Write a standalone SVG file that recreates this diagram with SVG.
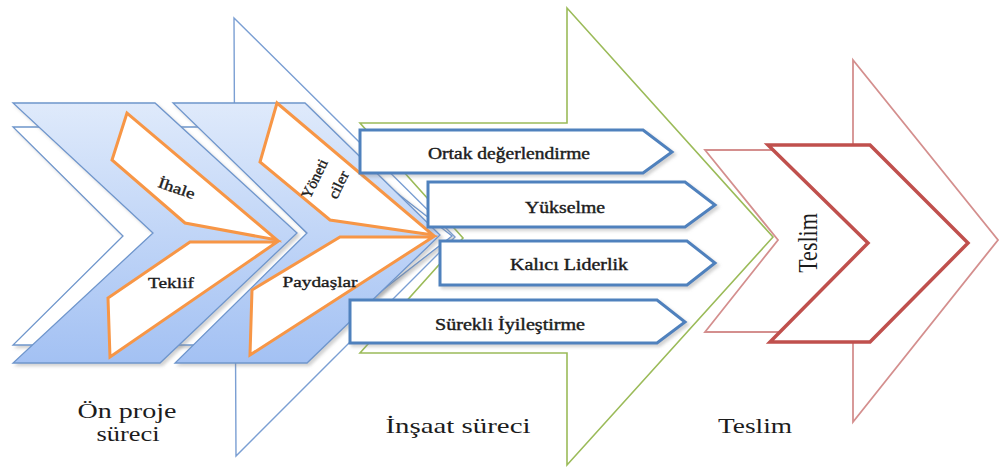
<svg xmlns="http://www.w3.org/2000/svg" width="1000" height="468" viewBox="0 0 1000 468">
  <defs>
    <linearGradient id="chevronFill" x1="0" y1="0" x2="0" y2="1">
      <stop offset="0" stop-color="#dfeafb"/>
      <stop offset="1" stop-color="#a3c1f3"/>
    </linearGradient>
    <filter id="softShadow" x="-10%" y="-10%" width="125%" height="125%">
      <feDropShadow dx="2.5" dy="2.5" stdDeviation="1.6" flood-color="#7f7f7f" flood-opacity="0.35"/>
    </filter>
  </defs>
  <style>
    .blue-frame{fill:#fff;stroke:#7b9fd3;stroke-width:1.4}
    .chev-back{fill:#fff;stroke:#6f96cc;stroke-width:1.3;filter:url(#softShadow)}
    .chev-front{fill:url(#chevronFill);stroke:#6f96cc;stroke-width:1.3;filter:url(#softShadow)}
    .petal{fill:#fff;stroke:#f79646;stroke-width:3}
    .green-frame{fill:#fff;stroke:#9bbb59;stroke-width:1.6}
    .step{fill:#fff;stroke:#4f81bd;stroke-width:3;filter:url(#softShadow)}
    .red-thin{fill:#fff;stroke:#d48f8e;stroke-width:1.8}
    .red-thick{fill:#fff;stroke:#c0504d;stroke-width:3.5}
    text{font-family:"Liberation Serif","Times New Roman",serif;fill:#1c1c1c}
    .small{font-size:15px;text-anchor:middle;stroke:#1c1c1c;stroke-width:0.35}
    .step-label{font-size:16px;text-anchor:middle;stroke:#1c1c1c;stroke-width:0.4}
    .stage-label{font-size:22px;text-anchor:middle}
  </style>
  <rect width="1000" height="468" fill="#fff"/>

  <!-- stage 1 frame: pre-project -->
  <g id="stage-pre-frame">
    <polygon class="blue-frame" points="234,18 455,237 236,456"/>
  </g>

  <!-- stage 2 frame: construction -->
  <g id="stage-build-frame">
    <polygon class="green-frame" points="360,123 567,123 567,8 773,237 567,465 567,353 360,353 463,238"/>
  </g>

  <!-- pre-project chevrons -->
  <g id="chevron-2-back">
    <polygon class="chev-back" points="199,127 312,127 452,236 312,345 199,345 311,236"/>
  </g>
  <g id="chevron-1-back">
    <polygon class="chev-back" points="13,127 199,127 310,236 199,345 13,345 123,236"/>
  </g>
  <g id="chevron-1">
    <polygon class="chev-front" points="13,103 155,103 297,233 160,363 13,363 153,233"/>
  </g>
  <g id="chevron-2">
    <polygon class="chev-front" points="173,103 305,103 440,235 307,363 175,363 307,233"/>
  </g>

  <g id="node-ihale">
    <polygon class="petal" points="127,113 112,160 185,223 277,240"/>
    <text class="small" transform="translate(175,193) rotate(19)" textLength="38" lengthAdjust="spacingAndGlyphs">İhale</text>
  </g>
  <g id="node-teklif">
    <polygon class="petal" points="190,242 277,242 110,357 108,298"/>
    <text class="small" x="171" y="288" textLength="46" lengthAdjust="spacingAndGlyphs">Teklif</text>
  </g>
  <g id="node-yoneticiler">
    <polygon class="petal" points="277,103 260,162 330,220 433,235"/>
    <text class="small" transform="translate(319,181) rotate(-64)" textLength="42" lengthAdjust="spacingAndGlyphs">Yöneti</text>
    <text class="small" transform="translate(343,187) rotate(-64)" textLength="29" lengthAdjust="spacingAndGlyphs">ciler</text>
  </g>
  <g id="node-paydaslar">
    <polygon class="petal" points="340,237 433,237 250,355 252,290"/>
    <text class="small" x="320" y="287" textLength="75" lengthAdjust="spacingAndGlyphs">Paydaşlar</text>
  </g>

  <!-- construction steps -->
  <g id="node-ortak">
    <polygon class="step" points="360,130 643,130 672,152 643,173 360,173"/>
    <text class="step-label" x="509" y="159" textLength="162" lengthAdjust="spacingAndGlyphs">Ortak değerlendirme</text>
  </g>
  <g id="node-yukselme">
    <polygon class="step" points="428,182 685,182 715,205 685,227 428,227"/>
    <text class="step-label" x="565" y="213" textLength="80" lengthAdjust="spacingAndGlyphs">Yükselme</text>
  </g>
  <g id="node-liderlik">
    <polygon class="step" points="440,241 687,241 715,263 687,285 440,285"/>
    <text class="step-label" x="569" y="270" textLength="118" lengthAdjust="spacingAndGlyphs">Kalıcı Liderlik</text>
  </g>
  <g id="node-iyilestirme">
    <polygon class="step" points="350,300 657,300 685,322 657,343 350,343"/>
    <text class="step-label" x="510" y="330" textLength="150" lengthAdjust="spacingAndGlyphs">Sürekli İyileştirme</text>
  </g>

  <!-- stage 3: delivery -->
  <g id="stage-delivery-frame">
    <polygon class="red-thin" points="853,60 998,240 853,422"/>
  </g>
  <g id="chevron-delivery-back">
    <polygon class="red-thin" points="705,150 800,150 880,241 800,332 705,332 778,240"/>
  </g>
  <g id="node-teslim">
    <polygon class="red-thick" points="768,145 870,145 968,243 870,342 770,342 868,243"/>
    <text class="stage-label" transform="translate(817,243) scale(1.25,1) rotate(-90)">Teslim</text>
  </g>

  <!-- stage captions -->
  <g id="captions">
    <text class="stage-label" x="127" y="418" textLength="99" lengthAdjust="spacingAndGlyphs">Ön proje</text>
    <text class="stage-label" x="128" y="441" textLength="63" lengthAdjust="spacingAndGlyphs">süreci</text>
    <text class="stage-label" x="458" y="433" textLength="145" lengthAdjust="spacingAndGlyphs">İnşaat süreci</text>
    <text class="stage-label" x="755" y="433" textLength="74" lengthAdjust="spacingAndGlyphs">Teslim</text>
  </g>
</svg>
